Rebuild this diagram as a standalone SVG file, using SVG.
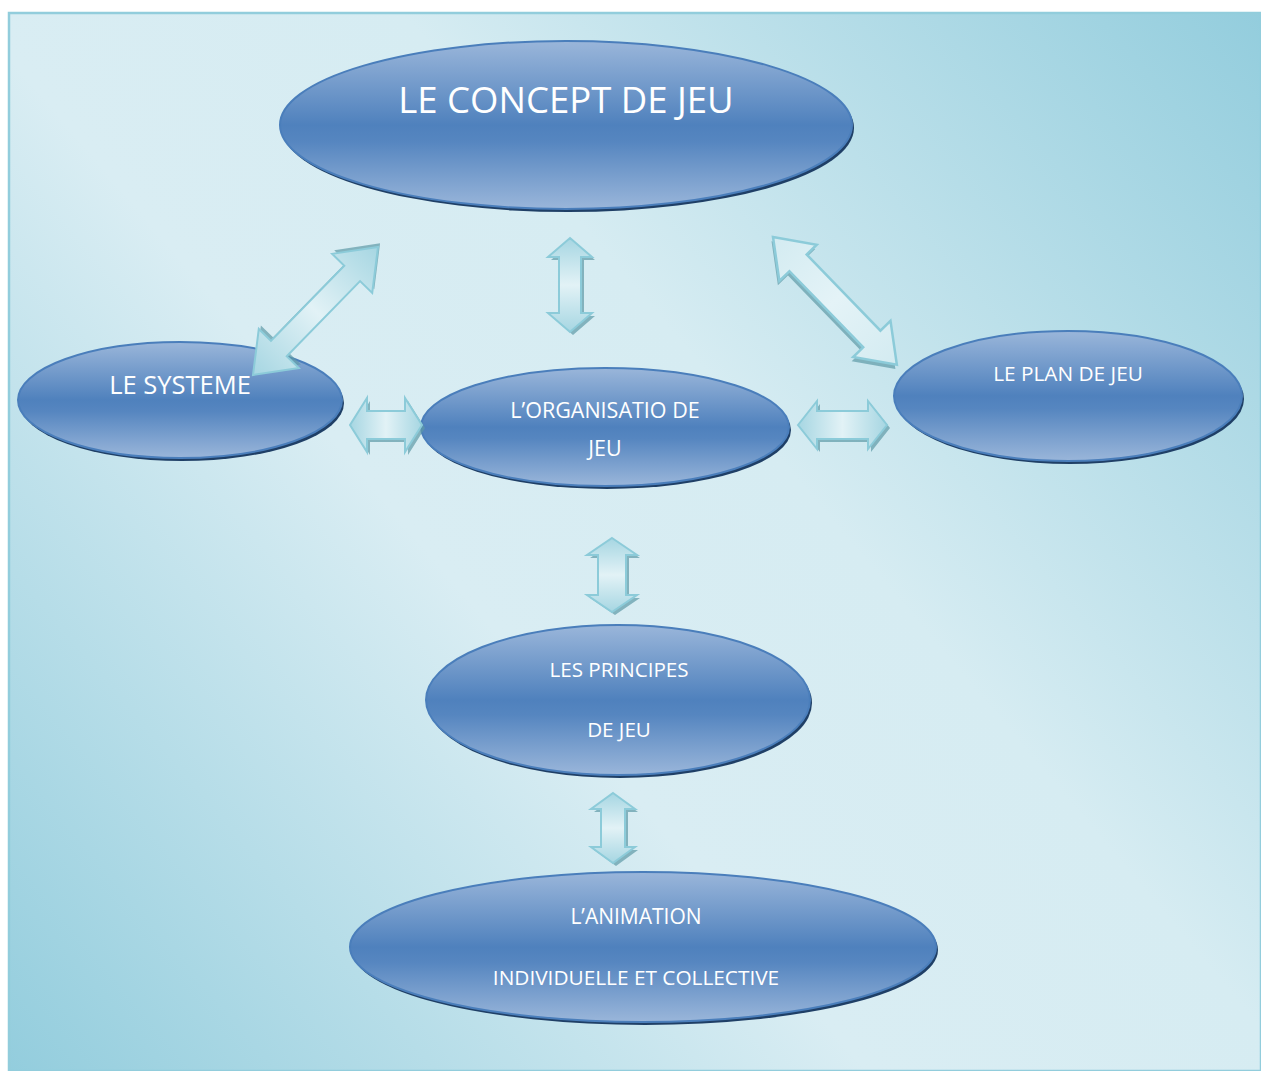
<svg xmlns="http://www.w3.org/2000/svg" width="1261" height="1071" viewBox="0 0 1261 1071">
<defs>
<linearGradient id="bg" gradientUnits="userSpaceOnUse" x1="1261" y1="12" x2="8" y2="1071">
<stop offset="0" stop-color="#93cddd"/>
<stop offset="0.4" stop-color="#d6ecf2"/>
<stop offset="0.6" stop-color="#d9edf3"/>
<stop offset="1" stop-color="#93cddd"/>
</linearGradient>
<linearGradient id="ell" x1="0" y1="0" x2="0" y2="1">
<stop offset="0" stop-color="#9ab6da"/>
<stop offset="0.5" stop-color="#4f81bd"/>
<stop offset="0.6" stop-color="#5686c0"/>
<stop offset="1" stop-color="#9ab6da"/>
</linearGradient>
<linearGradient id="arr" x1="0" y1="0" x2="1" y2="0">
<stop offset="0" stop-color="#a6d6e2"/>
<stop offset="0.5" stop-color="#e2f2f6"/>
<stop offset="1" stop-color="#a6d6e2"/>
</linearGradient>
<linearGradient id="arr2" x1="0" y1="0" x2="1" y2="0">
<stop offset="0" stop-color="#d3ebf1"/>
<stop offset="0.5" stop-color="#e4f3f7"/>
<stop offset="1" stop-color="#d3ebf1"/>
</linearGradient>
</defs>
<style>
.sh{fill:#1f3f66}
.el{fill:url(#ell);stroke:#4a7ebb;stroke-width:2}
.t{font-family:"Open Sans","Liberation Sans",sans-serif;fill:#ffffff;text-anchor:middle}
.a{fill:url(#arr);stroke:#8ccbd9;stroke-width:2;stroke-linejoin:miter}
.a2{fill:url(#arr2);stroke:#8ccbd9;stroke-width:2.5;stroke-linejoin:miter}
.as{fill:#5e9aa6;opacity:0.7}
</style>
<rect x="0" y="0" width="1261" height="1071" fill="#ffffff"/>
<rect x="9" y="13" width="1252" height="1058" fill="url(#bg)" stroke="#92cddc" stroke-width="2.5"/>

<g id="concept">
<ellipse class="sh" cx="568" cy="128" rx="286" ry="84"/>
<ellipse class="el" cx="566" cy="125" rx="286" ry="84"/>
<text class="t" x="566" y="113" font-size="36.5">LE CONCEPT DE JEU</text>
</g>
<g id="systeme">
<ellipse class="sh" cx="182" cy="403" rx="162" ry="58"/>
<ellipse class="el" cx="180" cy="400" rx="162" ry="58"/>
<text class="t" x="180" y="394" font-size="25.5">LE SYSTEME</text>
</g>
<g id="organisation">
<ellipse class="sh" cx="607" cy="430" rx="184" ry="59"/>
<ellipse class="el" cx="605" cy="427" rx="184" ry="59"/>
<text class="t" x="605" y="418" font-size="21.5">L’ORGANISATIO DE</text>
<text class="t" x="605" y="456" font-size="21.5">JEU</text>
</g>
<g id="plan">
<ellipse class="sh" cx="1070" cy="399" rx="174" ry="65"/>
<ellipse class="el" cx="1068" cy="396" rx="174" ry="65"/>
<text class="t" x="1068" y="381" font-size="20.8">LE PLAN DE JEU</text>
</g>
<g id="principes">
<ellipse class="sh" cx="620" cy="703" rx="192" ry="75"/>
<ellipse class="el" cx="618" cy="700" rx="192" ry="75"/>
<text class="t" x="619" y="677" font-size="20.6">LES PRINCIPES</text>
<text class="t" x="619" y="737" font-size="20.6">DE JEU</text>
</g>
<g id="animation">
<ellipse class="sh" cx="645" cy="950" rx="293" ry="75"/>
<ellipse class="el" cx="643" cy="947" rx="293" ry="75"/>
<text class="t" x="636" y="924" font-size="21">L’ANIMATION</text>
<text class="t" x="636" y="985" font-size="20.8">INDIVIDUELLE ET COLLECTIVE</text>
</g>

<g id="connectors">
<g transform="translate(253,375) rotate(-45.7)">
<polygon class="as" transform="translate(4,-1)" points="0,0 37,-28 37,-11 142,-11 142,-28 179,0 142,28 142,11 37,11 37,28"/>
<polygon class="a" points="0,0 37,-28 37,-11 142,-11 142,-28 179,0 142,28 142,11 37,11 37,28"/>
</g>
<g transform="translate(773,237) rotate(45.9)">
<polygon class="as" transform="translate(2,4)" points="0,0 36,-26 36,-12 142,-12 142,-26 178,0 142,26 142,12 36,12 36,26"/>
<polygon class="a2" points="0,0 36,-26 36,-12 142,-12 142,-26 178,0 142,26 142,12 36,12 36,26"/>
</g>
<g transform="translate(570,238) rotate(90)">
<polygon class="as" transform="translate(3,-3)" points="0,0 19,-22 19,-11 75,-11 75,-22 94,0 75,22 75,11 19,11 19,22"/>
<polygon class="a" points="0,0 19,-22 19,-11 75,-11 75,-22 94,0 75,22 75,11 19,11 19,22"/>
</g>
<g transform="translate(350,425)">
<polygon class="as" transform="translate(3,3)" points="0,0 17,-27 17,-14 55,-14 55,-27 72,0 55,27 55,14 17,14 17,27"/>
<polygon class="a" points="0,0 17,-27 17,-14 55,-14 55,-27 72,0 55,27 55,14 17,14 17,27"/>
</g>
<g transform="translate(798,425)">
<polygon class="as" transform="translate(3,3)" points="0,0 19,-24 19,-14 70,-14 70,-24 89,0 70,24 70,14 19,14 19,24"/>
<polygon class="a" points="0,0 19,-24 19,-14 70,-14 70,-24 89,0 70,24 70,14 19,14 19,24"/>
</g>
<g transform="translate(612,538) rotate(90)">
<polygon class="as" transform="translate(3,-3)" points="0,0 17,-25 17,-14 57,-14 57,-25 74,0 57,25 57,14 17,14 17,25"/>
<polygon class="a" points="0,0 17,-25 17,-14 57,-14 57,-25 74,0 57,25 57,14 17,14 17,25"/>
</g>
<g transform="translate(613,793) rotate(90)">
<polygon class="as" transform="translate(3,-3)" points="0,0 16,-22 16,-12 54,-12 54,-22 70,0 54,22 54,12 16,12 16,22"/>
<polygon class="a" points="0,0 16,-22 16,-12 54,-12 54,-22 70,0 54,22 54,12 16,12 16,22"/>
</g>
</g>
</svg>
